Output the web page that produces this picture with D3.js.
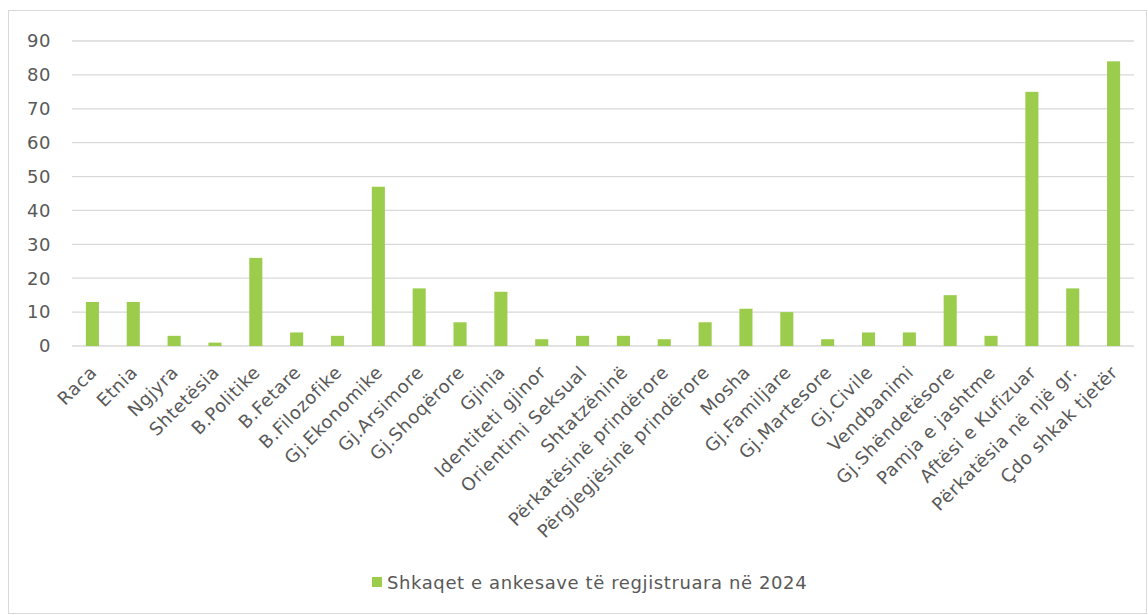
<!DOCTYPE html>
<html>
<head>
<meta charset="utf-8">
<script src="https://cdn.jsdelivr.net/npm/d3@7"></script>
<style>
  body { margin: 0; background: #fff; }
  text { font-family: "DejaVu Sans", sans-serif; fill: #595959; }
</style>
</head>
<body>
<svg id="chart" width="1148" height="615"></svg>
<script>
var categories = ["Raca", "Etnia", "Ngjyra", "Shtetësia", "B.Politike", "B.Fetare", "B.Filozofike",
  "Gj.Ekonomike", "Gj.Arsimore", "Gj.Shoqërore", "Gjinia", "Identiteti gjinor", "Orientimi Seksual",
  "Shtatzëninë", "Përkatësinë prindërore", "Përgjegjësinë prindërore", "Mosha", "Gj.Familjare",
  "Gj.Martesore", "Gj.Civile", "Vendbanimi", "Gj.Shëndetësore", "Pamja e jashtme",
  "Aftësi e Kufizuar", "Përkatësia në një gr.", "Çdo shkak tjetër"];
var values = [13, 13, 3, 1, 26, 4, 3, 47, 17, 7, 16, 2, 3, 3, 2, 7, 11, 10, 2, 4, 4, 15, 3, 75, 17, 84];
var yTicks = [0, 10, 20, 30, 40, 50, 60, 70, 80, 90];
var seriesName = "Shkaqet e ankesave të regjistruara në 2024";

var svg = d3.select("#chart");
var plotLeft = 72, plotRight = 1134, plotTop = 41, plotBottom = 346;

// outer border
svg.append("rect")
  .attr("x", 8.5).attr("y", 10.5)
  .attr("width", 1138).attr("height", 603)
  .attr("fill", "none").attr("stroke", "#d9d9d9");

var x = d3.scaleBand().domain(categories).range([plotLeft, plotRight]).paddingInner(0.68).paddingOuter(0.34);
var y = d3.scaleLinear().domain([0, 90]).range([plotBottom, plotTop]);

// gridlines
svg.append("g").selectAll("line")
  .data(yTicks).enter().append("line")
    .attr("x1", plotLeft).attr("x2", plotRight)
    .attr("y1", function(d) { return y(d); })
    .attr("y2", function(d) { return y(d); })
    .attr("stroke", "#d9d9d9").attr("stroke-width", 1.3);

// y labels
svg.append("g").selectAll("text")
  .data(yTicks).enter().append("text")
    .attr("x", 51).attr("y", function(d) { return y(d); })
    .attr("dy", "0.35em")
    .attr("text-anchor", "end")
    .style("font-size", "18px")
    .style("letter-spacing", "0.5px")
    .text(function(d) { return d; });

// bars
svg.append("g").selectAll("rect")
  .data(values).enter().append("rect")
    .attr("x", function(d, i) { return x(categories[i]); })
    .attr("y", function(d) { return y(d); })
    .attr("width", x.bandwidth())
    .attr("height", function(d) { return y(0) - y(d); })
    .attr("fill", "#9bcc4c");

// x labels
svg.append("g").selectAll("text")
  .data(categories).enter().append("text")
    .attr("transform", function(d) {
      var cx = x(d) + x.bandwidth() / 2;
      return "translate(" + (cx + 1) + "," + 369 + ") rotate(-45)";
    })
    .attr("text-anchor", "end")
    .attr("dy", "0.35em")
    .style("font-size", "18px")
    .style("letter-spacing", "0.6px")
    .text(function(d) { return d; });

// legend
svg.append("rect").attr("x", 372).attr("y", 577).attr("width", 10).attr("height", 10).attr("fill", "#9bcc4c");
svg.append("text").attr("x", 387).attr("y", 583).attr("dy", "0.35em")
  .style("font-size", "18px")
  .style("letter-spacing", "0.6px")
  .text(seriesName);
</script>
</body>
</html>
